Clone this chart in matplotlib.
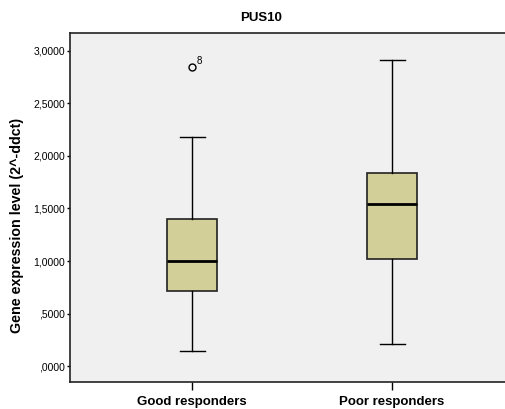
import matplotlib.pyplot as plt
from matplotlib.ticker import FuncFormatter

plt.rcParams['font.family'] = ['Liberation Sans', 'DejaVu Sans']

groups = ['Good responders', 'Poor responders']
whislo = [0.143, 0.210]
q1 = [0.711, 1.016]
med = [1.003, 1.546]
q3 = [1.400, 1.838]
whishi = [2.178, 2.914]
fliers = [[2.845], []]
flier_ids = [['8'], []]

stats = []
for i in range(len(groups)):
    stats.append({'label': groups[i], 'whislo': whislo[i], 'q1': q1[i], 'med': med[i],
                  'q3': q3[i], 'whishi': whishi[i], 'fliers': fliers[i]})

fig = plt.figure(figsize=(5.05, 4.09), dpi=100)
ax = fig.add_axes([69.5/505, 1-382/409, 435.5/505, 349/409])
ax.set_facecolor('#f0f0f0')

pos = [1, 2]
ax.bxp(stats, positions=pos, widths=0.25, patch_artist=True,
       boxprops=dict(facecolor='#d3cf99', edgecolor='#222222', linewidth=1.2),
       medianprops=dict(color='black', linewidth=2),
       whiskerprops=dict(color='black', linewidth=1),
       capprops=dict(color='black', linewidth=1),
       capwidths=0.125,
       flierprops=dict(marker='o', markerfacecolor='none', markeredgecolor='black',
                       markersize=5, markeredgewidth=1))

for i in range(len(groups)):
    for v, lab in zip(fliers[i], flier_ids[i]):
        ax.annotate(lab, (pos[i], v), xytext=(3, 1), textcoords='offset points',
                    fontsize=7, va='bottom', ha='left')

ax.set_xlim(0.3875, 2.565)
ax.set_ylim(-0.152, 3.171)
ax.set_yticks([0, 0.5, 1.0, 1.5, 2.0, 2.5, 3.0])
ax.yaxis.set_major_formatter(FuncFormatter(lambda v, p: ('%.4f' % v).lstrip('0').replace('.', ',') if v < 1 else ('%.4f' % v).replace('.', ',')))
ax.set_xticks(pos)
ax.set_xticklabels(groups, fontsize=9.5, fontweight='bold')
ax.tick_params(axis='y', labelsize=7.5, length=2.5, width=1, pad=0.5)
ax.tick_params(axis='x', length=6, width=1, pad=4)
ax.set_ylabel('Gene expression level (2^-ddct)', fontsize=10.3, fontweight='bold')
ax.yaxis.set_label_coords(-0.1045, 0.45)
fig.text(261/505, 1-18/409, 'PUS10', fontsize=9.5, fontweight='bold', ha='center', va='center')

for s in ['left', 'bottom', 'top']:
    ax.spines[s].set_linewidth(1.2)
    ax.spines[s].set_color('#222222')
ax.spines['right'].set_visible(False)

plt.savefig('out.png', dpi=100)
